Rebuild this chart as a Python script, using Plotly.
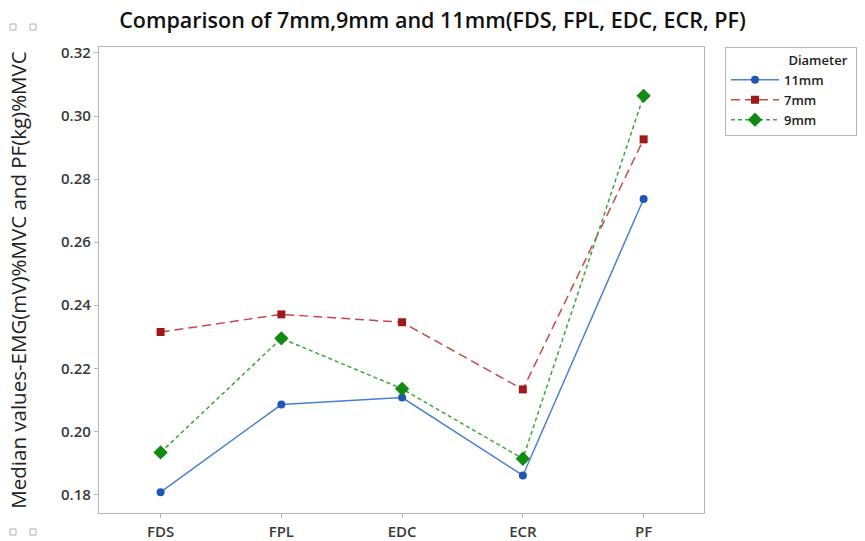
import plotly.graph_objects as go

# Muscle / measure categories on the x axis
categories = ["FDS", "FPL", "EDC", "ECR", "PF"]

# Median values (EMG in mV %MVC, PF in kg %MVC) per handle diameter
d11mm = [0.1807, 0.2085, 0.2107, 0.1860, 0.2737]
d7mm = [0.2315, 0.2371, 0.2346, 0.2133, 0.2926]
d9mm = [0.1933, 0.2295, 0.2135, 0.1913, 0.3064]

y_ticks = [0.18, 0.20, 0.22, 0.24, 0.26, 0.28, 0.30, 0.32]

FONT = "Open Sans"
W, H = 865, 541
L, R, T, B = 99, 161, 47, 28

fig = go.Figure()

# trailing no-break spaces widen the legend box
pad = "\u00a0" * 8
series = [
    ("11mm", d11mm, "#1f57b5", "#4a80d0", "solid", "circle", 8),
    ("7mm", d7mm, "#a01818", "#c44a4a", "9px,5px", "square", 8),
    ("9mm", d9mm, "#108a10", "#3aa63a", "4px,3px", "diamond", 11),
]
for name, vals, mcol, lcol, dash, sym, size in series:
    fig.add_trace(go.Scatter(
        x=categories, y=vals, name=name + pad, mode="lines+markers",
        line=dict(color=lcol, width=1.5, dash=dash),
        marker=dict(color=mcol, symbol=sym, size=size, line=dict(width=0)),
    ))

# Small hollow handles in the outer corners
plot_w = W - L - R
plot_h = H - T - B
def px_to_paper(xp, yp):
    return (xp - L) / plot_w, 1 - (yp - T) / plot_h

for cx, cy in [(13, 27), (33, 27), (13, 532), (33, 532)]:
    x0, y0 = px_to_paper(cx - 3, cy - 3)
    x1, y1 = px_to_paper(cx + 3, cy + 3)
    fig.add_shape(type="rect", xref="paper", yref="paper",
                  x0=x0, x1=x1, y0=y0, y1=y1,
                  line=dict(color="#b0b0b0", width=1), fillcolor="white")

fig.update_layout(
    width=W, height=H,
    margin=dict(l=L, r=R, t=T, b=B, autoexpand=False),
    paper_bgcolor="white", plot_bgcolor="white",
    font=dict(family=FONT, color="#222222"),
    title=dict(
        text="Comparison of 7mm,9mm and 11mm(FDS, FPL, EDC, ECR, PF)",
        x=0.5, xref="container", xanchor="center",
        y=1 - 20 / H, yanchor="middle",
        font=dict(family=FONT, size=21.5, color="#111111", weight=600),
    ),
    xaxis=dict(
        range=[-0.51, 4.5], automargin=False,
        showline=True, linecolor="#b5b5b5", linewidth=1.2, mirror=True,
        ticks="outside", ticklen=4, tickcolor="#b5b5b5",
        ticklabelstandoff=1,
        tickfont=dict(size=15, color="#3a3a3a", weight=600),
        showgrid=False, zeroline=False,
    ),
    yaxis=dict(
        range=[0.1741, 0.3219], automargin=False,
        tickvals=y_ticks, tickformat=".2f",
        showline=True, linecolor="#b5b5b5", linewidth=1.2, mirror=True,
        ticks="outside", ticklen=4, tickcolor="#b5b5b5",
        tickfont=dict(size=15, color="#3a3a3a", weight=600),
        showgrid=False, zeroline=False,
        title=dict(text="Median values-EMG(mV)%MVC and PF(kg)%MVC",
                   font=dict(size=20.5, color="#222222"), standoff=28),
    ),
    legend=dict(
        x=(725 - L) / plot_w, xanchor="left",
        y=1.0, yanchor="top",
        bordercolor="#b5b5b5", borderwidth=1,
        bgcolor="white",
        itemwidth=48,
        tracegroupgap=0,
        font=dict(size=13, color="#222222", weight=600),
        title=dict(text="Diameter" + "\u00a0" * 2, side="top right",
                   font=dict(size=13, color="#222222", weight=600)),
    ),
    showlegend=True,
)

fig.write_html("out.html")
